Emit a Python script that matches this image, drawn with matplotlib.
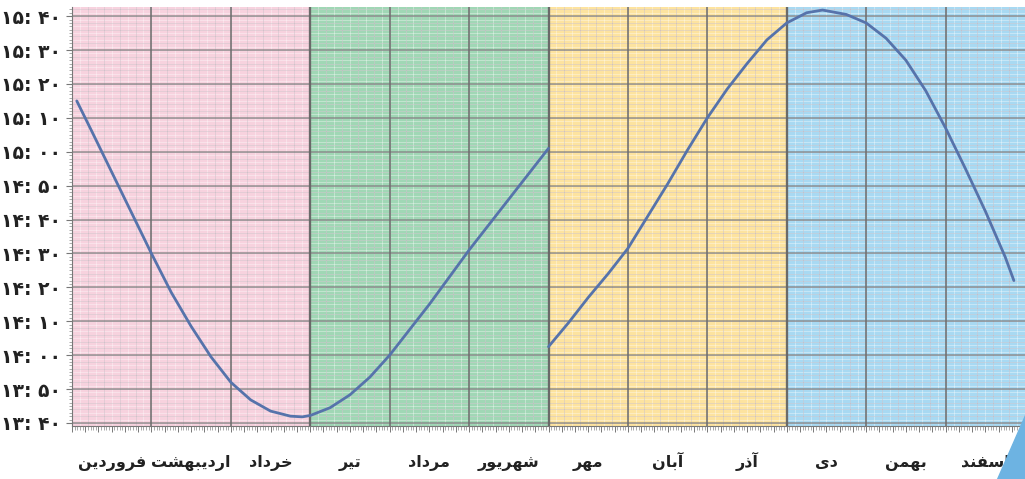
import numpy as np
import matplotlib
matplotlib.use('Agg')
import matplotlib.pyplot as plt
from matplotlib.patches import Polygon
from matplotlib.transforms import blended_transform_factory

# month names (Persian calendar), in logical order
months = ['فروردین', 'اردیبهشت', 'خرداد', 'تیر', 'مرداد', 'شهریور',
          'مهر', 'آبان', 'آذر', 'دی', 'بهمن', 'اسفند']
season_colors = ['#f7d2de', '#a0d7b5', '#fde39f', '#a8d9f2']

# first half of year: position in months, clock time in minutes of day
pos_a = [0.06, 0.25, 0.5, 0.75, 1.0, 1.25, 1.5, 1.75, 2.0, 2.25, 2.5, 2.75, 2.9,
         3.0, 3.25, 3.5, 3.75, 4.0, 4.25, 4.5, 4.75, 5.0, 5.25, 5.5, 5.75, 6.0]
time_a = [915, 906, 894, 882, 870, 858.5, 848.5, 839.5, 832, 826.8, 823.5, 822, 821.8,
          822.2, 824.5, 828.3, 833.5, 840, 847.5, 855, 863, 871, 878.5, 886, 893.5, 901]

# second half of year (after the clock change)
pos_b = [6.0, 6.25, 6.5, 6.75, 7.0, 7.25, 7.5, 7.75, 8.0, 8.25, 8.5, 8.75, 9.0,
         9.25, 9.45, 9.75, 10.0, 10.25, 10.5, 10.75, 11.0, 11.25, 11.5, 11.75, 11.86]
time_b = [842.5, 849.5, 857, 864, 871.5, 881, 890.5, 900.5, 910, 918.5, 926, 933, 938,
          941, 941.8, 940.5, 938, 933.5, 927, 918, 907, 895, 882.5, 869, 862]

y_ticks = list(range(820, 941, 10))  # 13:40 .. 15:40

# --- minimal Persian shaping (matplotlib draws glyphs left to right, unjoined)
FORMS = {
    'ا': (0xFE8D, 0xFE8E, None, None), 'آ': (0xFE81, 0xFE82, None, None),
    'ب': (0xFE8F, 0xFE90, 0xFE91, 0xFE92), 'ت': (0xFE95, 0xFE96, 0xFE97, 0xFE98),
    'خ': (0xFEA5, 0xFEA6, 0xFEA7, 0xFEA8), 'د': (0xFEA9, 0xFEAA, None, None),
    'ذ': (0xFEAB, 0xFEAC, None, None), 'ر': (0xFEAD, 0xFEAE, None, None),
    'س': (0xFEB1, 0xFEB2, 0xFEB3, 0xFEB4), 'ش': (0xFEB5, 0xFEB6, 0xFEB7, 0xFEB8),
    'ف': (0xFED1, 0xFED2, 0xFED3, 0xFED4), 'م': (0xFEE1, 0xFEE2, 0xFEE3, 0xFEE4),
    'ن': (0xFEE5, 0xFEE6, 0xFEE7, 0xFEE8), 'ه': (0xFEE9, 0xFEEA, 0xFEEB, 0xFEEC),
    'و': (0xFEED, 0xFEEE, None, None), 'ی': (0xFBFC, 0xFBFD, 0xFBFE, 0xFBFF),
}
DUAL = {c for c, f in FORMS.items() if f[2] is not None}


def shape(word):
    out = []
    for i, ch in enumerate(word):
        f = FORMS[ch]
        prev_ok = i > 0 and word[i - 1] in DUAL
        next_ok = ch in DUAL and i < len(word) - 1 and word[i + 1] in FORMS
        if prev_ok and next_ok:
            code = f[3]
        elif prev_ok:
            code = f[1]
        elif next_ok:
            code = f[2]
        else:
            code = f[0]
        out.append(chr(code))
    return ''.join(reversed(out))


def fa_digits(s):
    return s.translate(str.maketrans('0123456789', '۰۱۲۳۴۵۶۷۸۹'))


def time_label(m):
    return fa_digits('%d: %02d' % (m // 60, m % 60))


plt.rcParams['font.family'] = ['DejaVu Sans']

fig = plt.figure(figsize=(10.25, 4.79), dpi=100)
ax = fig.add_axes([72 / 1025, 53 / 479, 953 / 1025, 419 / 479])
ax.set_xlim(0, 953 / 80.4)
ax.set_ylim(819.1, 942.7)

# season backgrounds
for k, c in enumerate(season_colors):
    ax.axvspan(3 * k, 3 * k + 3, color=c, lw=0, zorder=0)

# graph paper grid
ax.vlines(np.arange(0, 12.01, 0.1), 815, 945, color='white', lw=0.5, alpha=0.5, zorder=1)
ax.hlines(np.arange(820, 943, 1), 0, 12, color='white', lw=0.5, alpha=0.5, zorder=1)
ax.vlines(np.arange(0, 12.01, 0.2), 815, 945, color='#9c8a98', lw=0.6, alpha=0.3, zorder=1)
ax.hlines(np.arange(820, 943, 2), 0, 12, color='#9c8a98', lw=0.6, alpha=0.28, zorder=1)
ax.hlines(y_ticks, 0, 12, color='#7f7f7f', lw=1.1, alpha=0.8, zorder=2)
ax.vlines(np.arange(1, 12), 815, 945, color='#6e6e6e', lw=1.4, alpha=0.8, zorder=2)
ax.vlines([3, 6, 9], 815, 945, color='#666666', lw=1.7, alpha=0.85, zorder=2)

ax.plot(pos_a, time_a, color='#5673ab', lw=2.0, zorder=3, solid_capstyle='round')
ax.plot(pos_b, time_b, color='#5673ab', lw=2.0, zorder=3, solid_capstyle='round')

for s in ['top', 'right']:
    ax.spines[s].set_visible(False)
ax.spines['left'].set_color('#777777')
ax.spines['bottom'].set_color('#777777')

ax.set_yticks(y_ticks)
ax.set_yticklabels([time_label(m) for m in y_ticks], fontsize=13.5, fontweight='bold',
                   color='#222222')
ax.set_yticks(np.arange(820, 943, 1), minor=True)
ax.tick_params(axis='y', which='major', length=4, width=0.8, color='#777777', pad=4)
ax.tick_params(axis='y', which='minor', length=2.5, width=0.5, color='#888888')

ax.set_xticks(np.arange(0, 12.01, 1 / 6))
ax.set_xticklabels([])
ax.set_xticks(np.arange(0, 12.01, 1 / 30), minor=True)
ax.tick_params(axis='x', which='major', length=4.5, width=0.7, color='#777777')
ax.tick_params(axis='x', which='minor', length=3, width=0.5, color='#888888')

trans = blended_transform_factory(ax.transData, ax.transAxes)
for i, name in enumerate(months):
    ax.text(i + 0.5, -0.098, shape(name), transform=trans, ha='center', va='baseline',
            fontsize=11.5, fontweight='bold', color='#222222')

# page corner decoration
fig.add_artist(Polygon([[997 / 1025, 0], [1, 0], [1, 64 / 479]], closed=True,
                       transform=fig.transFigure, color='#6db3e2', zorder=10))

fig.savefig('out.png', dpi=100)
